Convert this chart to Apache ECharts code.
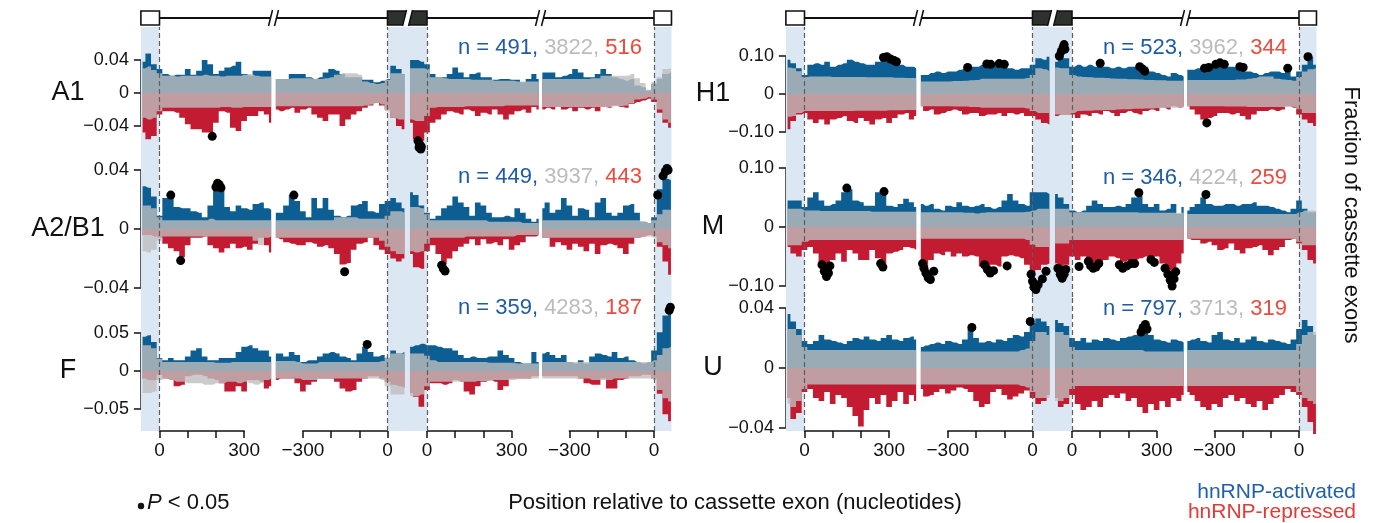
<!DOCTYPE html>
<html><head><meta charset="utf-8">
<script src="https://cdn.jsdelivr.net/npm/echarts@6/dist/echarts.min.js"></script>
<style>html,body{margin:0;padding:0;background:#fff}#c{width:1373px;height:523px}</style>
</head><body><div id="c"></div>
<script>
// ---------- positions (nt) ----------
const POS_DOWN = [-60,-40,-20,0,20,40,60,80,100,120,140,160,180,200,220,240,260,280,300,320,340,360,380,396];
const POS_UP = [-396,-380,-360,-340,-320,-300,-280,-260,-240,-220,-200,-180,-160,-140,-120,-100,-80,-60,-40,-20,0,20,40,60];
const Y_TICKS = { A1: 0.04, A2B1: 0.04, F: 0.05, H1: 0.10, M: 0.10, U: 0.04 };
const X_TICK_LABELS = { '-300': '\u2212300', '0': '0', '300': '300' };

// ---------- counts ----------
const A1_N = [491, 3822, 516];
const A2B1_N = [449, 3937, 443];
const F_N = [359, 4283, 187];
const H1_N = [523, 3962, 344];
const M_N = [346, 4224, 259];
const U_N = [797, 3713, 319];

// ---------- A1 ----------
const A1_BLUE = [
 [.038,.048,.035,.029,.023,.021,.022,.022,.029,.022,.027,.040,.035,.023,.027,.031,.033,.038,.023,.021,.027,.027,.027,.027],
 [.017,.017,.017,.023,.023,.023,.019,.017,.019,.025,.029,.027,.023,.019,.019,.019,.016,.016,.013,.015,.017,.033,.029,.023],
 [.040,.040,.038,.035,.023,.019,.019,.023,.031,.025,.019,.023,.025,.019,.019,.016,.017,.017,.016,.016,.013,.017,.023,.017],
 [.025,.025,.025,.019,.021,.023,.029,.025,.019,.019,.023,.029,.023,.019,.017,.015,.017,.009,.007,.003,.011,.017,.023,.025]];
const A1_GRAYP = [
 [.030,.032,.028,.024,.021,.021,.020,.021,.021,.021,.021,.022,.021,.021,.020,.021,.021,.021,.022,.023,.021,.020,.020,.020],
 [.017,.017,.017,.018,.018,.018,.018,.017,.017,.018,.019,.022,.024,.024,.024,.022,.014,.012,.011,.012,.016,.024,.024,.022],
 [.030,.030,.030,.029,.019,.019,.018,.017,.017,.017,.017,.016,.016,.016,.016,.015,.015,.015,.015,.014,.014,.014,.014,.014],
 [.017,.017,.017,.017,.017,.017,.017,.017,.017,.018,.018,.021,.021,.021,.021,.021,.023,.018,.012,.004,.013,.019,.029,.030]];
const A1_GRAYN = [
 [-.030,-.032,-.030,-.022,-.018,-.018,-.018,-.018,-.018,-.018,-.018,-.018,-.018,-.018,-.017,-.017,-.018,-.018,-.017,-.017,-.017,-.017,-.017,-.017],
 [-.016,-.016,-.016,-.016,-.016,-.016,-.016,-.016,-.016,-.016,-.016,-.016,-.016,-.016,-.016,-.016,-.015,-.014,-.012,-.014,-.022,-.030,-.032,-.032],
 [-.032,-.034,-.034,-.028,-.018,-.017,-.017,-.017,-.017,-.017,-.016,-.016,-.016,-.016,-.016,-.016,-.016,-.015,-.015,-.015,-.015,-.015,-.015,-.015],
 [-.017,-.017,-.017,-.017,-.017,-.017,-.017,-.017,-.017,-.017,-.017,-.017,-.017,-.016,-.016,-.015,-.012,-.008,-.007,-.005,-.008,-.020,-.032,-.036]];
const A1_RED = [
 [-.048,-.056,-.052,-.026,-.022,-.022,-.024,-.030,-.038,-.044,-.044,-.048,-.048,-.036,-.022,-.024,-.042,-.046,-.034,-.028,-.028,-.022,-.026,-.036],
 [-.020,-.022,-.020,-.018,-.024,-.020,-.018,-.026,-.030,-.034,-.026,-.026,-.040,-.032,-.026,-.022,-.018,-.015,-.012,-.015,-.020,-.030,-.040,-.044],
 [-.036,-.056,-.058,-.048,-.036,-.032,-.026,-.022,-.024,-.026,-.020,-.022,-.028,-.024,-.026,-.020,-.026,-.032,-.026,-.022,-.020,-.024,-.017,-.020],
 [-.020,-.018,-.020,-.017,-.020,-.018,-.022,-.018,-.020,-.018,-.022,-.017,-.018,-.015,-.017,-.018,-.013,-.011,-.009,-.007,-.011,-.024,-.036,-.042]];
const A1_DOTS = [[0,187,-.0525],[2,-32,-.058],[2,-26,-.062],[2,-20,-.065],[2,-28,-.066],[2,-22,-.068]];

// ---------- A2/B1 ----------
const A2B1_BLUE = [
 [.029,.028,.022,.009,.021,.023,.015,.014,.014,.012,.011,.008,.016,.029,.028,.015,.012,.016,.014,.013,.017,.018,.014,.013],
 [.011,.011,.016,.023,.019,.012,.008,.021,.014,.021,.013,.009,.008,.009,.016,.017,.019,.012,.011,.017,.019,.021,.018,.014],
 [.025,.023,.016,.011,.007,.009,.014,.016,.022,.018,.015,.009,.018,.016,.011,.008,.008,.009,.008,.014,.011,.007,.005,.007],
 [.014,.018,.011,.013,.021,.016,.009,.014,.013,.008,.018,.021,.011,.009,.011,.016,.017,.011,.005,.004,.008,.027,.034,.033]];
const A2B1_GRAYP = [
 [.016,.016,.014,.008,.006,.006,.006,.006,.006,.006,.006,.006,.007,.006,.006,.006,.006,.006,.006,.006,.006,.006,.006,.006],
 [.006,.006,.006,.006,.006,.006,.006,.006,.006,.006,.006,.008,.008,.008,.008,.007,.007,.007,.007,.007,.009,.012,.012,.011],
 [.015,.015,.014,.010,.006,.006,.006,.006,.006,.006,.006,.006,.006,.006,.005,.005,.005,.005,.005,.005,.004,.004,.004,.004],
 [.006,.006,.006,.006,.006,.006,.006,.006,.006,.006,.006,.006,.006,.006,.006,.006,.006,.006,.005,.004,.006,.010,.013,.013]];
const A2B1_GRAYN = [
 [-.015,-.016,-.014,-.008,-.005,-.005,-.005,-.005,-.005,-.005,-.005,-.005,-.005,-.005,-.005,-.005,-.005,-.005,-.005,-.005,-.008,-.011,-.006,-.005],
 [-.006,-.006,-.006,-.006,-.006,-.006,-.006,-.006,-.006,-.006,-.006,-.006,-.006,-.006,-.006,-.006,-.006,-.006,-.006,-.008,-.012,-.015,-.017,-.017],
 [-.015,-.016,-.015,-.010,-.006,-.006,-.006,-.006,-.006,-.006,-.005,-.005,-.005,-.005,-.005,-.005,-.005,-.005,-.005,-.004,-.004,-.004,-.004,-.004],
 [-.006,-.006,-.006,-.006,-.006,-.006,-.006,-.006,-.006,-.006,-.006,-.006,-.006,-.006,-.006,-.006,-.006,-.006,-.005,-.005,-.006,-.009,-.011,-.013]];
const A2B1_RED = [
 [-.004,-.004,-.005,-.006,-.010,-.013,-.015,-.019,-.011,-.006,-.006,-.005,-.011,-.013,-.016,-.013,-.010,-.013,-.012,-.014,-.010,-.006,-.011,-.016],
 [-.006,-.007,-.009,-.010,-.011,-.011,-.009,-.010,-.012,-.011,-.013,-.017,-.024,-.023,-.014,-.010,-.009,-.006,-.011,-.014,-.017,-.020,-.022,-.020],
 [-.017,-.026,-.027,-.015,-.011,-.017,-.024,-.020,-.015,-.012,-.010,-.007,-.011,-.007,-.010,-.009,-.011,-.007,-.014,-.011,-.009,-.005,-.005,-.004],
 [-.006,-.006,-.012,-.009,-.011,-.014,-.010,-.012,-.015,-.010,-.017,-.011,-.010,-.011,-.013,-.017,-.010,-.006,-.005,-.004,-.005,-.012,-.022,-.031]];
const A2B1_DOTS = [[0,40,.023],[0,75,-.0214],[0,200,.0285],[0,206,.031],[0,212,.030],[0,218,.028],[1,-332,.023],[1,-152,-.029],
 [2,52,-.0245],[2,58,-.027],[2,64,-.0285],[3,13,.023],[3,32,.036],[3,40,.039],[3,46,.041],[3,50,.040]];

// ---------- F ----------
const F_BLUE = [
 [.045,.047,.038,.017,.014,.017,.014,.014,.019,.027,.030,.019,.014,.014,.017,.017,.017,.025,.032,.034,.030,.027,.027,.019],
 [.023,.023,.019,.025,.021,.012,.014,.014,.019,.023,.025,.023,.019,.017,.014,.023,.032,.025,.019,.021,.017,.027,.023,.025],
 [.032,.034,.036,.034,.034,.032,.030,.030,.027,.021,.017,.019,.017,.017,.019,.019,.027,.021,.017,.012,.010,.010,.025,.012],
 [.023,.025,.021,.017,.021,.012,.010,.014,.010,.019,.023,.021,.019,.025,.017,.019,.014,.012,.010,.012,.027,.051,.073,.086]];
const F_GRAYP = [
 [.034,.034,.030,.016,.012,.012,.012,.012,.012,.012,.012,.012,.012,.011,.011,.011,.012,.012,.012,.012,.012,.012,.012,.012],
 [.013,.013,.013,.013,.012,.010,.010,.010,.012,.012,.012,.012,.012,.012,.012,.012,.012,.012,.012,.013,.018,.023,.023,.023],
 [.023,.023,.023,.020,.014,.012,.012,.012,.012,.012,.012,.012,.012,.012,.011,.011,.011,.011,.011,.010,.010,.010,.010,.010],
 [.012,.012,.012,.012,.012,.012,.012,.012,.012,.012,.012,.012,.012,.012,.012,.012,.012,.012,.012,.012,.014,.021,.030,.032]];
const F_GRAYN = [
 [-.029,-.029,-.027,-.012,-.010,-.012,-.014,-.014,-.016,-.016,-.016,-.018,-.018,-.016,-.016,-.014,-.014,-.016,-.014,-.016,-.018,-.016,-.012,-.010],
 [-.010,-.010,-.010,-.010,-.010,-.012,-.012,-.012,-.010,-.010,-.010,-.010,-.010,-.010,-.010,-.010,-.010,-.010,-.010,-.012,-.020,-.031,-.031,-.031],
 [-.033,-.033,-.031,-.020,-.014,-.014,-.014,-.014,-.014,-.014,-.014,-.014,-.013,-.013,-.013,-.012,-.012,-.012,-.012,-.011,-.011,-.010,-.010,-.010],
 [-.010,-.010,-.010,-.010,-.010,-.010,-.010,-.010,-.010,-.012,-.012,-.012,-.012,-.010,-.010,-.010,-.010,-.010,-.010,-.010,-.012,-.025,-.036,-.040]];
const F_RED = [
 [-.010,-.012,-.012,-.005,-.010,-.012,-.020,-.018,-.007,-.005,-.005,-.007,-.010,-.012,-.016,-.027,-.027,-.020,-.027,-.012,-.012,-.014,-.023,-.020],
 [-.012,-.010,-.010,-.010,-.016,-.027,-.018,-.014,-.010,-.010,-.010,-.014,-.023,-.027,-.025,-.014,-.010,-.007,-.007,-.010,-.014,-.018,-.020,-.022],
 [-.029,-.034,-.047,-.025,-.016,-.016,-.018,-.016,-.012,-.014,-.027,-.031,-.020,-.014,-.012,-.014,-.025,-.020,-.010,-.010,-.010,-.010,-.007,-.007],
 [-.007,-.007,-.007,-.007,-.007,-.007,-.007,-.010,-.016,-.018,-.018,-.010,-.023,-.023,-.012,-.010,-.007,-.007,-.005,-.005,-.010,-.030,-.057,-.066]];
const F_DOTS = [[1,-72,.035],[3,54,.080],[3,58,.084]];

// ---------- H1 ----------
const H1_BLUE = [
 [.090,.081,.068,.050,.077,.081,.077,.085,.072,.077,.081,.090,.085,.081,.077,.077,.085,.094,.094,.085,.077,.072,.072,.068],
 [.050,.050,.055,.059,.055,.059,.059,.064,.068,.072,.072,.077,.081,.077,.081,.077,.068,.064,.068,.068,.077,.094,.090,.098],
 [.085,.120,.094,.072,.077,.072,.077,.072,.081,.072,.068,.072,.068,.072,.072,.077,.072,.059,.055,.050,.046,.055,.050,.046],
 [.064,.064,.068,.072,.072,.072,.077,.072,.072,.068,.072,.059,.055,.050,.055,.059,.059,.055,.064,.046,.059,.077,.098,.077]];
const H1_GRAYP = [
 [.070,.068,.060,.045,.046,.046,.046,.046,.045,.045,.045,.045,.045,.045,.044,.044,.044,.044,.044,.043,.043,.042,.042,.042],
 [.033,.033,.033,.033,.033,.033,.034,.034,.035,.036,.037,.040,.040,.040,.040,.040,.040,.040,.040,.042,.050,.068,.065,.060],
 [.070,.068,.068,.050,.046,.045,.044,.043,.043,.042,.041,.040,.040,.039,.039,.038,.037,.037,.036,.036,.035,.035,.035,.035],
 [.037,.037,.037,.037,.037,.037,.037,.037,.037,.038,.038,.040,.042,.046,.046,.046,.040,.038,.037,.035,.045,.059,.065,.068]];
const H1_GRAYN = [
 [-.060,-.058,-.050,-.045,-.045,-.045,-.045,-.045,-.045,-.045,-.045,-.045,-.044,-.044,-.044,-.044,-.044,-.044,-.043,-.043,-.043,-.042,-.042,-.042],
 [-.032,-.032,-.032,-.032,-.032,-.032,-.033,-.033,-.033,-.034,-.034,-.036,-.036,-.036,-.036,-.036,-.036,-.036,-.036,-.038,-.045,-.050,-.050,-.050],
 [-.054,-.054,-.054,-.050,-.045,-.044,-.044,-.043,-.043,-.042,-.042,-.041,-.040,-.040,-.039,-.039,-.038,-.038,-.037,-.037,-.036,-.036,-.036,-.036],
 [-.032,-.032,-.032,-.032,-.032,-.032,-.032,-.033,-.033,-.033,-.033,-.034,-.034,-.034,-.034,-.034,-.034,-.034,-.033,-.034,-.040,-.050,-.050,-.050]];
const H1_RED = [
 [-.093,-.071,-.054,-.050,-.067,-.076,-.067,-.080,-.067,-.063,-.058,-.071,-.076,-.063,-.071,-.080,-.067,-.063,-.076,-.063,-.054,-.050,-.067,-.058],
 [-.032,-.045,-.041,-.054,-.050,-.045,-.041,-.045,-.054,-.050,-.050,-.058,-.054,-.054,-.050,-.058,-.050,-.054,-.050,-.058,-.058,-.067,-.076,-.080],
 [-.058,-.054,-.054,-.054,-.063,-.054,-.058,-.050,-.054,-.045,-.050,-.058,-.050,-.045,-.050,-.054,-.045,-.041,-.045,-.036,-.041,-.032,-.036,-.032],
 [-.032,-.041,-.054,-.067,-.063,-.058,-.050,-.050,-.054,-.050,-.058,-.067,-.054,-.045,-.045,-.041,-.045,-.041,-.032,-.036,-.054,-.067,-.076,-.084]];
const H1_DOTS = [[0,280,.096],[0,292,.098],[0,305,.092],[0,318,.088],[0,326,.085],
 [1,-230,.070],[1,-162,.079],[1,-148,.078],[1,-118,.080],[1,-100,.078],
 [2,-45,.100],[2,-38,.112],[2,-32,.122],[2,-28,.130],[2,-25,.118],[2,100,.081],[2,240,.072],[2,250,.066],[2,258,.060],
 [3,-335,.068],[3,-320,.070],[3,-295,.078],[3,-280,.082],[3,-265,.078],[3,-210,.072],[3,-198,.070],[3,-40,.068],[3,32,.098],[3,-327,-.076]];

// ---------- M ----------
const M_BLUE = [
 [.045,.045,.045,.034,.050,.059,.045,.036,.039,.045,.059,.064,.045,.042,.036,.036,.059,.059,.036,.034,.039,.048,.042,.034],
 [.039,.036,.039,.031,.028,.036,.034,.042,.036,.034,.036,.039,.034,.031,.034,.045,.056,.045,.039,.036,.059,.059,.059,.056],
 [.056,.050,.039,.028,.025,.028,.036,.045,.039,.034,.034,.036,.034,.039,.050,.053,.039,.034,.039,.028,.031,.039,.022,.034],
 [.028,.034,.039,.050,.039,.036,.036,.039,.039,.036,.039,.039,.042,.036,.036,.034,.031,.028,.025,.031,.045,.031,.025,.025]];
const M_GRAYP = [
 [.031,.031,.031,.028,.028,.028,.027,.027,.027,.027,.027,.027,.027,.027,.027,.026,.026,.026,.026,.026,.026,.026,.026,.026],
 [.025,.025,.025,.025,.025,.025,.025,.025,.024,.024,.023,.024,.025,.025,.025,.025,.025,.025,.025,.026,.028,.031,.031,.031],
 [.031,.031,.031,.025,.025,.025,.025,.025,.025,.025,.025,.025,.025,.025,.025,.024,.024,.024,.024,.024,.024,.024,.024,.024],
 [.022,.022,.022,.022,.022,.022,.022,.022,.022,.022,.022,.022,.022,.022,.022,.022,.022,.022,.022,.022,.025,.028,.028,.028]];
const M_GRAYN = [
 [-.031,-.031,-.031,-.025,-.022,-.022,-.022,-.022,-.022,-.022,-.022,-.022,-.022,-.022,-.022,-.022,-.022,-.022,-.022,-.022,-.022,-.022,-.022,-.022],
 [-.020,-.020,-.020,-.020,-.020,-.020,-.020,-.020,-.020,-.020,-.020,-.020,-.020,-.020,-.020,-.020,-.020,-.020,-.020,-.022,-.030,-.034,-.034,-.034],
 [-.028,-.028,-.028,-.022,-.022,-.022,-.022,-.022,-.022,-.022,-.022,-.022,-.022,-.022,-.022,-.022,-.022,-.022,-.022,-.022,-.022,-.022,-.022,-.022],
 [-.020,-.020,-.020,-.020,-.020,-.020,-.020,-.020,-.020,-.020,-.020,-.020,-.020,-.020,-.020,-.020,-.020,-.020,-.020,-.020,-.025,-.031,-.031,-.031]];
const M_RED = [
 [-.034,-.045,-.050,-.039,-.034,-.045,-.064,-.073,-.056,-.045,-.059,-.039,-.045,-.056,-.056,-.039,-.053,-.064,-.045,-.042,-.039,-.034,-.036,-.039],
 [-.059,-.067,-.056,-.045,-.048,-.042,-.050,-.045,-.050,-.048,-.050,-.067,-.070,-.064,-.067,-.050,-.048,-.050,-.053,-.064,-.081,-.073,-.064,-.062],
 [-.062,-.073,-.064,-.050,-.056,-.050,-.059,-.064,-.062,-.056,-.050,-.053,-.059,-.056,-.056,-.053,-.050,-.056,-.050,-.062,-.073,-.081,-.062,-.045],
 [-.020,-.022,-.022,-.028,-.025,-.031,-.039,-.036,-.028,-.039,-.045,-.036,-.034,-.031,-.039,-.048,-.039,-.034,-.022,-.020,-.028,-.039,-.056,-.062]];
const M_DOTS = [[0,150,.066],[0,282,.060],[0,62,-.064],[0,70,-.075],[0,78,-.084],[0,85,-.078],[0,90,-.066],[0,270,-.062],[0,278,-.068],
 [1,-390,-.062],[1,-385,-.070],[1,-378,-.078],[1,-370,-.086],[1,-362,-.089],[1,-350,-.075],[1,-170,-.064],[1,-160,-.072],[1,-150,-.078],[1,-138,-.074],[1,-90,-.066],
 [1,-5,-.080],[1,0,-.092],[1,5,-.102],[1,12,-.106],[1,20,-.098],[1,35,-.088],[1,48,-.075],
 [2,-50,-.070],[2,-42,-.080],[2,-35,-.087],[2,-28,-.080],[2,-22,-.072],[2,25,-.067],[2,58,-.058],[2,66,-.066],[2,75,-.070],[2,85,-.068],[2,95,-.062],
 [2,168,-.064],[2,180,-.070],[2,195,-.066],[2,210,-.062],[2,222,-.062],[2,237,.058],[2,280,-.055],[2,292,-.060],
 [2,330,-.070],[2,340,-.080],[2,348,-.090],[2,355,-.100],[2,362,-.088],[2,368,-.076],[3,-330,.055]];

// ---------- U ----------
const U_BLUE = [
 [.036,.031,.026,.018,.016,.018,.022,.019,.018,.017,.016,.018,.020,.019,.021,.019,.018,.020,.022,.019,.018,.020,.021,.019],
 [.014,.015,.016,.017,.016,.018,.017,.016,.019,.026,.020,.017,.018,.017,.019,.018,.020,.022,.021,.024,.030,.033,.031,.028],
 [.032,.030,.028,.020,.018,.020,.017,.019,.018,.020,.019,.018,.020,.021,.022,.024,.027,.022,.019,.018,.017,.019,.018,.017],
 [.018,.019,.020,.018,.017,.022,.024,.019,.018,.020,.017,.019,.021,.018,.017,.019,.018,.017,.016,.019,.026,.032,.028,.022]];
const U_GRAYP = [
 [.026,.026,.022,.014,.012,.012,.012,.012,.012,.012,.012,.012,.012,.012,.012,.012,.012,.012,.012,.012,.012,.012,.012,.012],
 [.011,.011,.011,.011,.011,.011,.011,.011,.011,.011,.011,.011,.011,.011,.011,.011,.011,.011,.012,.013,.018,.024,.024,.022],
 [.024,.024,.022,.014,.012,.012,.012,.012,.012,.012,.012,.012,.012,.012,.012,.012,.011,.011,.011,.011,.011,.011,.011,.011],
 [.012,.012,.012,.012,.012,.012,.012,.012,.012,.012,.012,.012,.012,.012,.012,.012,.012,.012,.012,.012,.016,.022,.024,.024]];
const U_GRAYN = [
 [-.024,-.026,-.022,-.014,-.011,-.011,-.011,-.011,-.011,-.011,-.011,-.011,-.011,-.011,-.011,-.011,-.011,-.011,-.011,-.011,-.011,-.011,-.011,-.011],
 [-.011,-.011,-.011,-.011,-.011,-.011,-.011,-.011,-.011,-.011,-.011,-.011,-.011,-.011,-.011,-.011,-.011,-.011,-.012,-.013,-.016,-.020,-.020,-.020],
 [-.022,-.022,-.020,-.014,-.012,-.012,-.012,-.012,-.012,-.012,-.012,-.012,-.012,-.012,-.012,-.012,-.012,-.012,-.012,-.012,-.012,-.012,-.012,-.012],
 [-.012,-.012,-.012,-.012,-.012,-.012,-.012,-.012,-.012,-.012,-.012,-.012,-.012,-.012,-.012,-.012,-.012,-.012,-.012,-.012,-.016,-.020,-.022,-.024]];
const U_RED = [
 [-.020,-.034,-.030,-.016,-.014,-.020,-.022,-.016,-.024,-.018,-.020,-.026,-.032,-.039,-.028,-.020,-.024,-.018,-.026,-.022,-.016,-.024,-.018,-.022],
 [-.014,-.019,-.018,-.016,-.014,-.017,-.015,-.013,-.014,-.016,-.022,-.026,-.024,-.016,-.014,-.018,-.021,-.019,-.017,-.015,-.020,-.024,-.022,-.018],
 [-.020,-.026,-.024,-.018,-.024,-.028,-.026,-.022,-.026,-.020,-.018,-.020,-.017,-.022,-.020,-.026,-.030,-.024,-.028,-.022,-.026,-.020,-.022,-.018],
 [-.016,-.018,-.022,-.026,-.028,-.024,-.026,-.020,-.018,-.022,-.020,-.024,-.026,-.022,-.028,-.024,-.020,-.018,-.014,-.016,-.018,-.026,-.036,-.044]];
const U_DOTS = [[1,-215,.027],[1,-8,.031],[2,245,.024],[2,252,.027],[2,260,.029],[2,266,.026]];

// ---------- layout ----------
const FONT = '"Liberation Sans", Arial, Helvetica, sans-serif';
const PX = 0.282;                       // px per nucleotide
const SEG_ZERO = [159.5, 387.5, 427, 654];
const SEG_RANGE = [[-66, 402], [-402, 72], [-70, 402], [-402, 62]];
const SHADE = [[-66, 0], [0, 72], [-70, 0], [0, 62]];
const AXIS_SPAN = [[0, 300], [-300, 0], [0, 300], [-300, 0]];
const COL_X = [0, 645];
const C_BLUE = '#0d5f93', C_RED = '#c31b31', C_GRAY = 'rgba(190,190,190,0.8)', C_SHADE = '#dbe7f3';

const PANELS = [
  { label: 'A1',    col: 0, zero: 93,  ppu: 825,  tick: Y_TICKS.A1,   top: 27,  bottom: 150, nY: 48,  N: A1_N,   B: A1_BLUE,   GP: A1_GRAYP,   GN: A1_GRAYN,   R: A1_RED,   D: A1_DOTS },
  { label: 'A2/B1', col: 0, zero: 229, ppu: 1475, tick: Y_TICKS.A2B1, top: 150, bottom: 300, nY: 177, N: A2B1_N, B: A2B1_BLUE, GP: A2B1_GRAYP, GN: A2B1_GRAYN, R: A2B1_RED, D: A2B1_DOTS },
  { label: 'F',     col: 0, zero: 371, ppu: 760,  tick: Y_TICKS.F,    top: 300, bottom: 431, nY: 308, N: F_N,    B: F_BLUE,    GP: F_GRAYP,    GN: F_GRAYN,    R: F_RED,    D: F_DOTS },
  { label: 'H1',    col: 1, zero: 94,  ppu: 380,  tick: Y_TICKS.H1,   top: 27,  bottom: 150, nY: 48,  N: H1_N,   B: H1_BLUE,   GP: H1_GRAYP,   GN: H1_GRAYN,   R: H1_RED,   D: H1_DOTS },
  { label: 'M',     col: 1, zero: 227, ppu: 590,  tick: Y_TICKS.M,    top: 150, bottom: 297, nY: 178, N: M_N,    B: M_BLUE,    GP: M_GRAYP,    GN: M_GRAYN,    R: M_RED,    D: M_DOTS },
  { label: 'U',     col: 1, zero: 368, ppu: 1500, tick: Y_TICKS.U,    top: 297, bottom: 431, nY: 309, N: U_N,    B: U_BLUE,    GP: U_GRAYP,    GN: U_GRAYN,    R: U_RED,    D: U_DOTS }
];

const nx = (c, s, nt) => COL_X[c] + SEG_ZERO[s] + nt * PX;

const grid = [], xAxis = [], yAxis = [], series = [], graphic = [];

function fmtY(v) {
  if (Math.abs(v) < 1e-9) return '0';
  return (v < 0 ? '\u2212' : '') + Math.abs(v).toFixed(2);
}
function fmtX(v) {
  const k = String(Math.round(v));
  return X_TICK_LABELS[k] || '';
}

function area(gi, xs, vs, color, z) {
  const n = Math.min(xs.length, vs.length);
  const data = [];
  for (let i = 0; i < n; i++) data.push([xs[i], vs[i]]);
  return { type: 'line', xAxisIndex: gi, yAxisIndex: gi, data, step: 'middle', symbol: 'none', showSymbol: false,
    lineStyle: { width: 0, opacity: 0 }, areaStyle: { color, opacity: 1 }, z, clip: false, silent: true };
}

PANELS.forEach((p) => {
  const ymax = (p.zero - p.top) / p.ppu, ymin = -(p.bottom - p.zero) / p.ppu;
  for (let s = 0; s < 4; s++) {
    const gi = grid.length;
    const [a, b] = SEG_RANGE[s];
    grid.push({ left: nx(p.col, s, a), width: (b - a) * PX, top: p.top, height: p.bottom - p.top, containLabel: false });
    xAxis.push({ gridIndex: gi, type: 'value', min: a, max: b, show: false });
    yAxis.push({ gridIndex: gi, type: 'value', min: ymin, max: ymax, show: false });
    const xs = (s % 2 === 0) ? POS_DOWN : POS_UP;
    series.push({ type: 'line', xAxisIndex: gi, yAxisIndex: gi, data: [[a, 0]], symbol: 'none', lineStyle: { opacity: 0 }, z: 0, silent: true,
      markArea: { silent: true, itemStyle: { color: C_SHADE }, data: [[{ xAxis: SHADE[s][0] }, { xAxis: SHADE[s][1] }]] } });
    series.push(area(gi, xs, p.B[s], C_BLUE, 2));
    series.push(area(gi, xs, p.R[s], C_RED, 2));
    series.push(area(gi, xs, p.GP[s], C_GRAY, 3));
    series.push(area(gi, xs, p.GN[s], C_GRAY, 3));
    const dots = p.D.filter(d => d[0] === s).map(d => [d[1], d[2]]);
    series.push({ type: 'scatter', xAxisIndex: gi, yAxisIndex: gi, data: dots, symbolSize: 9, itemStyle: { color: '#000', opacity: 1 }, z: 6, clip: false, silent: true,
      markLine: { silent: true, symbol: 'none', label: { show: false }, lineStyle: { color: '#5e5e5e', type: [5, 3], width: 1.2 }, data: [{ xAxis: 0 }] } });
  }
  const gy = grid.length;
  grid.push({ left: nx(p.col, 0, -66), width: 1, top: p.zero - p.tick * p.ppu, height: 2 * p.tick * p.ppu });
  xAxis.push({ gridIndex: gy, type: 'value', min: 0, max: 1, show: false });
  yAxis.push({ gridIndex: gy, type: 'value', min: -p.tick, max: p.tick, interval: p.tick, position: 'left',
    axisLine: { show: true, lineStyle: { color: '#111', width: 1.5 } },
    axisTick: { show: true, length: 7, lineStyle: { color: '#111', width: 1.5 } },
    axisLabel: { show: true, color: '#111', fontSize: 18, fontFamily: FONT, margin: 12, formatter: fmtY },
    splitLine: { show: false } });
  graphic.push({ type: 'text', x: p.col === 0 ? 68 : 713, y: p.zero, z: 10,
    style: { text: p.label, fontSize: 27, fontFamily: FONT, fill: '#111', align: 'center', verticalAlign: 'middle', textAlign: 'center', textVerticalAlign: 'middle' } });
  graphic.push({ type: 'text', x: COL_X[p.col] + 642, y: p.nY, z: 10,
    style: { text: '{b|n = ' + p.N[0] + ', }{g|' + p.N[1] + ', }{r|' + p.N[2] + '}', fontSize: 22, fontFamily: FONT,
      align: 'right', verticalAlign: 'middle', textAlign: 'right', textVerticalAlign: 'middle',
      rich: { b: { fill: '#1f5ba6', fontSize: 22, fontFamily: FONT }, g: { fill: '#bcbcbc', fontSize: 22, fontFamily: FONT }, r: { fill: '#ee4a3c', fontSize: 22, fontFamily: FONT } } } });
});

for (let c = 0; c < 2; c++) {
  for (let s = 0; s < 4; s++) {
    const gi = grid.length;
    const [a, b] = AXIS_SPAN[s];
    grid.push({ left: nx(c, s, a), width: (b - a) * PX, top: 430, height: 1 });
    yAxis.push({ gridIndex: gi, type: 'value', min: 0, max: 1, show: false });
    xAxis.push({ gridIndex: gi, type: 'value', min: a, max: b, interval: 100, position: 'bottom',
      axisLine: { show: true, lineStyle: { color: '#111', width: 1.5 } },
      axisTick: { show: true, length: 7, lineStyle: { color: '#111', width: 1.5 } },
      axisLabel: { show: true, color: '#111', fontSize: 19, fontFamily: FONT, margin: 10, showMinLabel: true, showMaxLabel: true,
        formatter: (v) => (v === a || v === b) ? fmtX(v) : '' },
      splitLine: { show: false } });
  }
}

function breakMark(xb, z) {
  graphic.push({ type: 'polygon', z: z, shape: { points: [[xb - 5, 26], [xb - 1, 10], [xb + 5, 10], [xb + 1, 26]] }, style: { fill: '#fff', stroke: null } });
  graphic.push({ type: 'line', z: z + 1, shape: { x1: xb - 5, y1: 26, x2: xb - 1, y2: 10 }, style: { stroke: '#111', lineWidth: 1.5 } });
  graphic.push({ type: 'line', z: z + 1, shape: { x1: xb + 1, y1: 26, x2: xb + 5, y2: 10 }, style: { stroke: '#111', lineWidth: 1.5 } });
}
for (let c = 0; c < 2; c++) {
  const ym = 18, y0 = 11, h = 14;
  graphic.push({ type: 'line', z: 1, shape: { x1: nx(c, 0, 0), y1: ym, x2: nx(c, 1, 0), y2: ym }, style: { stroke: '#111', lineWidth: 2 } });
  graphic.push({ type: 'line', z: 1, shape: { x1: nx(c, 2, 0), y1: ym, x2: nx(c, 3, 0), y2: ym }, style: { stroke: '#111', lineWidth: 2 } });
  breakMark((nx(c, 0, 402) + nx(c, 1, -402)) / 2, 2);
  breakMark((nx(c, 2, 402) + nx(c, 3, -402)) / 2, 2);
  graphic.push({ type: 'rect', z: 4, shape: { x: nx(c, 0, -66), y: y0, width: nx(c, 0, 0) - nx(c, 0, -66), height: h }, style: { fill: '#fff', stroke: '#111', lineWidth: 1.6 } });
  graphic.push({ type: 'rect', z: 4, shape: { x: nx(c, 1, 0), y: y0, width: nx(c, 2, 0) - nx(c, 1, 0), height: h }, style: { fill: '#2e322f', stroke: '#111', lineWidth: 1.6 } });
  breakMark((nx(c, 1, 72) + nx(c, 2, -70)) / 2, 5);
  graphic.push({ type: 'rect', z: 4, shape: { x: nx(c, 3, 0), y: y0, width: nx(c, 3, 62) - nx(c, 3, 0), height: h }, style: { fill: '#fff', stroke: '#111', lineWidth: 1.6 } });
}

graphic.push({ type: 'text', x: 1351, y: 215, rotation: -Math.PI / 2, z: 10,
  style: { text: 'Fraction of cassette exons', fontSize: 22, fontFamily: FONT, fill: '#111', align: 'center', verticalAlign: 'middle', textAlign: 'center', textVerticalAlign: 'middle' } });
graphic.push({ type: 'text', x: 735, y: 503, z: 10,
  style: { text: 'Position relative to cassette exon (nucleotides)', fontSize: 22, fontFamily: FONT, fill: '#111', align: 'center', verticalAlign: 'middle', textAlign: 'center', textVerticalAlign: 'middle' } });
graphic.push({ type: 'circle', z: 10, shape: { cx: 141, cy: 506, r: 3.2 }, style: { fill: '#111' } });
graphic.push({ type: 'text', x: 147, y: 503, z: 10,
  style: { text: '{i|P}{t| < 0.05}', fontSize: 22, fontFamily: FONT, fill: '#111', align: 'left', verticalAlign: 'middle', textAlign: 'left', textVerticalAlign: 'middle',
    rich: { t: { fontSize: 22, fill: '#111', fontFamily: FONT }, i: { fontSize: 22, fill: '#111', fontStyle: 'italic', fontFamily: FONT } } } });
graphic.push({ type: 'text', x: 1356, y: 492, z: 10,
  style: { text: 'hnRNP-activated', fontSize: 21, fontFamily: FONT, fill: '#1f5fae', align: 'right', verticalAlign: 'middle', textAlign: 'right', textVerticalAlign: 'middle' } });
graphic.push({ type: 'text', x: 1356, y: 512, z: 10,
  style: { text: 'hnRNP-repressed', fontSize: 21, fontFamily: FONT, fill: '#e23b36', align: 'right', verticalAlign: 'middle', textAlign: 'right', textVerticalAlign: 'middle' } });

const chart = echarts.init(document.getElementById('c'), null, { renderer: 'canvas' });
chart.setOption({ animation: false, backgroundColor: '#fff', grid, xAxis, yAxis, series, graphic });
</script></body></html>
